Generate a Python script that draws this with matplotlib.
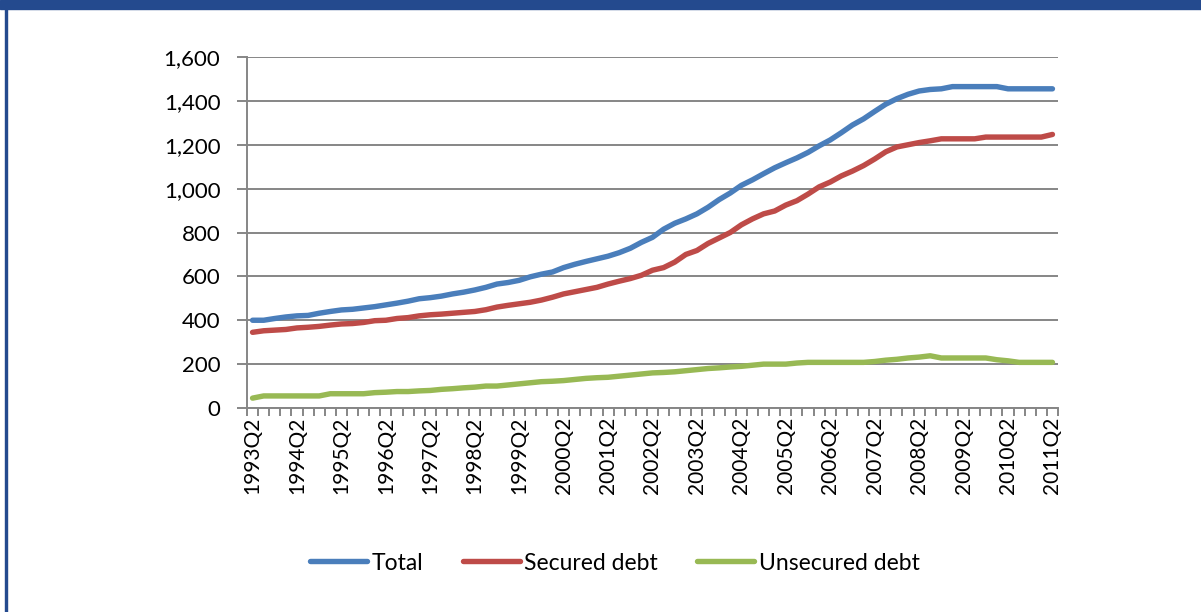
import numpy as np
import matplotlib
matplotlib.use("Agg")
import matplotlib.pyplot as plt
from matplotlib.patches import Rectangle
from matplotlib.lines import Line2D
from matplotlib.ticker import FuncFormatter

plt.rcParams['font.family'] = ['Lato', 'DejaVu Sans']

# quarterly series, 1993Q2 .. 2011Q2
quarters = [f"{y}Q{q}" for y in range(1993, 2012) for q in range(1, 5)][1:74]

total = [400, 400, 408, 415, 420, 422, 432, 440, 447, 450,
         456, 462, 470, 478, 487, 498, 503, 510, 520, 528,
         538, 550, 565, 572, 582, 598, 610, 620, 640, 655,
         668, 680, 692, 708, 728, 755, 778, 815, 842, 862,
         885, 915, 950, 980, 1015, 1040, 1068, 1095, 1118, 1140,
         1165, 1195, 1222, 1255, 1290, 1318, 1352, 1385, 1410, 1430,
         1445, 1452, 1455, 1465, 1465, 1465, 1465, 1465, 1455, 1455,
         1455, 1455, 1455]

secured = [345, 352, 355, 358, 365, 368, 372, 378, 383, 385,
           390, 398, 400, 408, 412, 420, 425, 428, 432, 436,
           440, 448, 460, 468, 475, 482, 492, 505, 520, 530,
           540, 550, 565, 578, 590, 605, 628, 640, 665, 700,
           718, 750, 775, 800, 835, 862, 885, 898, 925, 945,
           975, 1008, 1030, 1058, 1080, 1105, 1135, 1168, 1190, 1200,
           1210, 1218, 1227, 1227, 1227, 1227, 1235, 1235, 1235, 1235,
           1235, 1235, 1247]

unsecured = [45, 55, 55, 55, 55, 55, 55, 65, 65, 65,
             65, 70, 72, 75, 75, 78, 80, 85, 88, 92,
             95, 100, 100, 105, 110, 115, 120, 122, 125, 130,
             135, 138, 140, 145, 150, 155, 160, 162, 165, 170,
             175, 180, 183, 187, 190, 195, 200, 200, 200, 205,
             208, 208, 208, 208, 208, 208, 212, 218, 222, 228,
             232, 238, 228, 228, 228, 228, 228, 220, 215, 208,
             208, 208, 208]

series = [("Total", total, "#4A7EBB"),
          ("Secured debt", secured, "#BE4B48"),
          ("Unsecured debt", unsecured, "#98B954")]

W, H = 1201, 612
fig = plt.figure(figsize=(W / 100, H / 100), dpi=100)
frame = "#244A8E"
fig.patches.append(Rectangle((0, 1 - 9 / H), 1, 9 / H, transform=fig.transFigure,
                             color=frame, zorder=0))
fig.patches.append(Rectangle((5 / W, 0), 2 / W, 1 - 9 / H, transform=fig.transFigure,
                             color=frame, zorder=0))

ax = fig.add_axes([247 / W, (H - 408) / H, (1058 - 247) / W, (408 - 57) / H])
x = np.arange(len(quarters))
for name, vals, col in series:
    ax.plot(x, vals, color=col, lw=3.9, solid_capstyle='round', label=name)

grey = "#868686"
ax.set_ylim(0, 1600)
ax.set_yticks(range(0, 1601, 200))
ax.yaxis.set_major_formatter(FuncFormatter(lambda v, p: f"{int(v):,}"))
ax.grid(axis='y', color=grey, lw=1.4)
ax.set_axisbelow(True)

ax.set_xlim(-0.5, len(quarters) - 0.5)
ax.set_xticks(x[::4])
ax.set_xticklabels(quarters[::4], rotation=90)
ax.set_xticks(np.arange(-0.5, len(quarters), 1), minor=True)
ax.tick_params(axis='x', which='major', length=0, pad=6, labelsize=15)
ax.tick_params(axis='x', which='minor', length=6, width=1.4, color=grey)
ax.tick_params(axis='y', length=7.2, width=1.4, color=grey, pad=12, labelsize=16)

for s in ['top', 'right']:
    ax.spines[s].set_visible(False)
for s in ['left', 'bottom']:
    ax.spines[s].set_color(grey)
    ax.spines[s].set_linewidth(1.4)

handles = [Line2D([], [], color=c, lw=3.9, solid_capstyle='round') for _, _, c in series]
fig.legend(handles, [n for n, _, _ in series], loc='center',
           bbox_to_anchor=(615 / W, (H - 563) / H), ncol=3, frameon=False,
           fontsize=16.5, handlelength=2.5, handletextpad=0.2, columnspacing=1.7)

fig.savefig("out.png", dpi=100)
